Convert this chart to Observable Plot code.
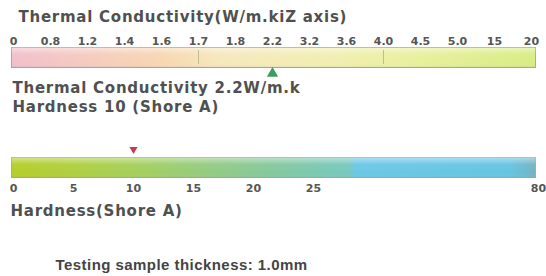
<!DOCTYPE html>
<html><head><meta charset="utf-8">
<script src="https://cdn.jsdelivr.net/npm/d3@7"></script>
<script src="https://cdn.jsdelivr.net/npm/@observablehq/plot@0.6"></script>
<style>
html,body{margin:0;padding:0;background:#fff;}
#chart{width:546px;height:276px;overflow:hidden;}
#chart svg{display:block;}
</style></head><body><div id="chart"></div>
<script>
// ---- data ----
const condTitle = "Thermal Conductivity(W/m.kiZ axis)";
const condTicks = ["0","0.8","1.2","1.4","1.6","1.7","1.8","2.2","3.2","3.6","4.0","4.5","5.0","15","20"];
const condDividers = ["1.7","4.0"];
const condValue = "2.2";
const condUnit = "W/m.k";
const hardTitle = "Hardness(Shore A)";
const hardTicks = [0,5,10,15,20,25,80];
const hardValue = 10;
const hardUnit = "(Shore A)";
const caption = "Testing sample thickness: 1.0mm";

// ---- styles ----
const condStops = [[0,"#f1bfcb"],[0.15,"#f5cbbf"],[0.28,"#f7d6b2"],[0.4,"#f6e8bc"],[0.6,"#f2eeb2"],[0.75,"#e9f0a0"],[1,"#d8ec82"]];
const hardStops = [[0,"#b4cd28"],[0.12,"#afcf40"],[0.23,"#a6cf5a"],[0.34,"#98cc78"],[0.47,"#88c898"],[0.58,"#7cc8b0"],[0.645,"#78c8c0"],[0.655,"#6ac8e6"],[0.95,"#66c4e2"],[1,"#72b2c2"]];
const textColor = "#505050";
const font = "DejaVu Sans";

function addGradient(svg, id, stops, vertical) {
  const ns = "http://www.w3.org/2000/svg";
  let defs = svg.querySelector("defs");
  if (!defs) { defs = document.createElementNS(ns, "defs"); svg.insertBefore(defs, svg.firstChild); }
  const g = document.createElementNS(ns, "linearGradient");
  g.setAttribute("id", id);
  g.setAttribute("x1", 0); g.setAttribute("y1", 0);
  g.setAttribute("x2", vertical ? 0 : 1); g.setAttribute("y2", vertical ? 1 : 0);
  for (const [o, c, op] of stops) {
    const s = document.createElementNS(ns, "stop");
    s.setAttribute("offset", o); s.setAttribute("stop-color", c);
    if (op != null) s.setAttribute("stop-opacity", op);
    g.appendChild(s);
  }
  defs.appendChild(g);
}
const sheen = [[0,"#ffffff",0.45],[0.35,"#ffffff",0.05],[0.8,"#ffffff",0],[1,"#808080",0.15]];

const triDown = {draw(ctx, size) {
  const s = Math.sqrt(size) * 1.1, h = s * 0.85;
  ctx.moveTo(-s / 2, -h / 2); ctx.lineTo(s / 2, -h / 2); ctx.lineTo(0, h / 2); ctx.closePath();
}};

const W = 546;
const heading = {textAnchor: "start", lineAnchor: "middle", fontSize: 15, fontWeight: "bold", fill: textColor};
const topPlot = Plot.plot({
  width: W, height: 125,
  marginTop: 47, marginBottom: 58, marginLeft: 13, marginRight: 15,
  x: {type: "point", domain: condTicks, padding: 0},
  style: {fontFamily: font, background: "transparent", color: "#555"},
  marks: [
    Plot.frame({fill: "url(#gradCond)", stroke: "#a8a8a8", insetLeft: -2, insetRight: -4}),
    Plot.frame({fill: "url(#sheen1)", insetLeft: -2, insetRight: -4}),
    Plot.ruleX(condDividers, {stroke: "#c4bb90", strokeWidth: 1, insetTop: 3, insetBottom: 3}),
    Plot.axisX({anchor: "top", tickSize: 0, tickPadding: 3, label: null, fontSize: 11, fontWeight: "bold", fill: "#555"}),
    Plot.dot([condValue], {x: d => d, frameAnchor: "bottom", dy: 6, symbol: "triangle", r: 4.2, fill: "#3d9b5e"}),
    Plot.text([condTitle], {...heading, frameAnchor: "top-left", dx: 5, dy: -30}),
    Plot.text([`Thermal Conductivity ${condValue}${condUnit}`], {...heading, frameAnchor: "bottom-left", dx: -1, dy: 21}),
    Plot.text([`Hardness ${hardValue} ${hardUnit}`], {...heading, frameAnchor: "bottom-left", dx: -1, dy: 40})
  ]
});
addGradient(topPlot, "gradCond", condStops);
addGradient(topPlot, "sheen1", sheen, true);

const bottomPlot = Plot.plot({
  width: W, height: 151,
  marginTop: 32, marginBottom: 99, marginLeft: 11, marginRight: 11,
  x: {type: "linear", domain: [0, 25, 80], range: [13, 313, 538]},
  style: {fontFamily: font, background: "transparent", color: "#555"},
  marks: [
    Plot.frame({fill: "url(#gradHard)", stroke: "#a8a8a8"}),
    Plot.frame({fill: "url(#sheen2)"}),
    Plot.axisX({anchor: "bottom", ticks: hardTicks, tickSize: 0, tickPadding: 7, label: null, fontSize: 11, fontWeight: "bold", fill: "#555", tickFormat: d => String(d)}),
    Plot.dot([hardValue], {x: d => d, frameAnchor: "top", dy: -7, symbol: triDown, r: 4.2, fill: "#c63b52"}),
    Plot.text([hardTitle], {...heading, frameAnchor: "bottom-left", dx: -1, dy: 34}),
    Plot.text([caption], {frameAnchor: "bottom-left", dx: 44, dy: 88, textAnchor: "start", lineAnchor: "middle", fontFamily: "Liberation Sans", fontSize: 15, fontWeight: "bold", fill: "#444"})
  ]
});
addGradient(bottomPlot, "gradHard", hardStops);
addGradient(bottomPlot, "sheen2", sheen, true);

// wider letter spacing on the headings, as in the reference artwork
d3.select(topPlot).selectAll("g[aria-label='text'] text").attr("letter-spacing", "0.75px");
d3.select(bottomPlot).selectAll("g[aria-label='text'] text").attr("letter-spacing", "0.75px");
d3.select(bottomPlot).selectAll("g[aria-label='text'] text")
  .filter(function() { return this.textContent === caption; })
  .attr("letter-spacing", "0.45px");

const chart = document.getElementById("chart");
chart.appendChild(topPlot);
chart.appendChild(bottomPlot);
</script>
</body></html>
